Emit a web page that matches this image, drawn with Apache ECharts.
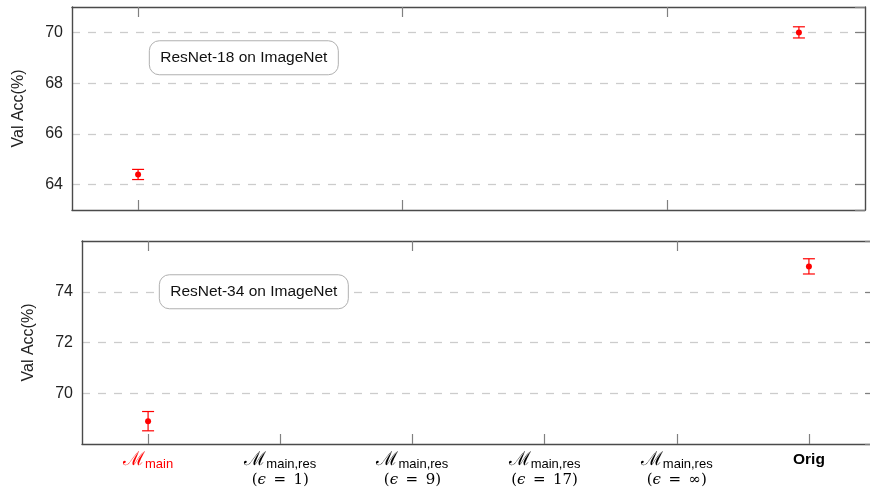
<!DOCTYPE html>
<html>
<head>
<meta charset="utf-8">
<script src="https://cdn.jsdelivr.net/npm/echarts@6/dist/echarts.min.js"></script>
<style>
  html, body { margin: 0; padding: 0; background: #fff; }
  #chart { width: 870px; height: 489px; }
</style>
</head>
<body>
<div id="chart"></div>
<script>
// Methods compared on the x axis
const categories = ['M_main', 'M_main_res_eps1', 'M_main_res_eps9', 'M_main_res_eps17', 'M_main_res_epsInf', 'Orig'];
const subscripts = ['main', 'main,res', 'main,res', 'main,res', 'main,res', ''];
const epsilons = ['', '1', '9', '17', '\u221E', ''];

// Validation accuracy (mean and half-width of the error bar), null = not evaluated
const r18Mean = [64.4, null, null, null, null, 70.0];
const r18Err  = [0.2,  null, null, null, null, 0.22];
const r34Mean = [68.9, null, null, null, null, 75.0];
const r34Err  = [0.38, null, null, null, null, 0.3];

// Y ranges for both panels (labelled ticks land on the even values)
const r18Range = [63, 71];
const r34Range = [68, 76];

// Panel captions
const r18Title = 'ResNet-18 on ImageNet';
const r34Title = 'ResNet-34 on ImageNet';
const titleAnchorCat = 0.8;
const r18TitleY = 69;
const r34TitleY = 74;

const SANS = 'Liberation Sans';
const RED = '#ff0000';
const AXIS = '#4a4a4a';
const TICK = '#808080';

function errData(mean, err) {
  const out = [];
  mean.forEach((m, i) => { if (m != null) out.push([i, m, err[i]]); });
  return out;
}

function renderErr(params, api) {
  const x = api.value(0), m = api.value(1), e = api.value(2);
  const c = api.coord([x, m]);
  const t = api.coord([x, m + e]);
  const b = api.coord([x, m - e]);
  const hw = 6;
  const ls = { stroke: RED, lineWidth: 1.2 };
  return {
    type: 'group',
    children: [
      { type: 'line', shape: { x1: c[0], y1: t[1], x2: c[0], y2: b[1] }, style: ls },
      { type: 'line', shape: { x1: c[0] - hw, y1: t[1], x2: c[0] + hw, y2: t[1] }, style: ls },
      { type: 'line', shape: { x1: c[0] - hw, y1: b[1], x2: c[0] + hw, y2: b[1] }, style: ls },
      { type: 'circle', shape: { cx: c[0], cy: c[1], r: 3 }, style: { fill: RED } }
    ]
  };
}

function xAxisPair(gridIndex, showLabels) {
  const base = {
    type: 'category', data: categories, gridIndex: gridIndex, boundaryGap: true,
    axisLine: { show: true, lineStyle: { color: AXIS, width: 1.4 } },
    axisTick: { show: true, inside: true, length: 10, alignWithLabel: true, lineStyle: { color: TICK, width: 1.2 } },
    splitLine: { show: false }
  };
  const bottom = Object.assign({}, base, {
    position: 'bottom',
    axisLabel: showLabels ? {
      show: true, margin: 7, interval: 0, hideOverlap: false,
      formatter: function (v, i) {
        if (i === categories.length - 1) return '{orig|Orig}';
        const cal = i === 0 ? 'calRed' : 'cal';
        const sub = i === 0 ? 'subRed' : 'sub';
        let s = '{' + cal + '|\u2133}{' + sub + '|' + subscripts[i] + '}';
        if (epsilons[i]) s += '\n{par|(}{eps|\u03F5}{par|\u2002=\u2002' + epsilons[i] + ')}';
        return s;
      },
      rich: {
        cal: { fontFamily: 'DejaVu Serif', fontSize: 19, color: '#000', lineHeight: 20, padding: [0, 0, 2, 0] },
        calRed: { fontFamily: 'DejaVu Serif', fontSize: 19, color: RED, lineHeight: 20, padding: [0, 0, 2, 0] },
        sub: { fontFamily: SANS, fontSize: 13, color: '#000', verticalAlign: 'bottom' },
        subRed: { fontFamily: SANS, fontSize: 13, color: RED, verticalAlign: 'bottom' },
        par: { fontFamily: 'DejaVu Serif', fontSize: 15, color: '#000', lineHeight: 17, verticalAlign: 'bottom' },
        eps: { fontFamily: 'DejaVu Serif', fontStyle: 'italic', fontSize: 15, color: '#000', lineHeight: 17, verticalAlign: 'bottom' },
        orig: { fontFamily: SANS, fontWeight: 'bold', fontSize: 15.5, color: '#000', padding: [1, 0, 0, 0] }
      }
    } : { show: false }
  });
  const top = Object.assign({}, base, { position: 'top', axisLabel: { show: false } });
  return [bottom, top];
}

function yAxisPair(gridIndex, range) {
  const left = {
    type: 'value', gridIndex: gridIndex, position: 'left',
    min: range[0], max: range[1], splitNumber: 4,
    name: 'Val Acc(%)', nameLocation: 'middle', nameGap: 45,
    nameTextStyle: { fontFamily: SANS, fontSize: 16, color: '#222' },
    axisLine: { show: true, lineStyle: { color: AXIS, width: 1.4 } },
    axisTick: { show: false },
    axisLabel: {
      margin: 9, fontFamily: SANS, fontSize: 16, color: '#222',
      showMinLabel: false, showMaxLabel: false
    },
    splitLine: { show: true, showMinLine: false, showMaxLine: false,
      lineStyle: { color: '#cccccc', width: 1.3, type: [8, 8] } }
  };
  const right = {
    type: 'value', gridIndex: gridIndex, position: 'right',
    min: range[0], max: range[1], splitNumber: 4,
    axisLine: { show: true, lineStyle: { color: AXIS, width: 1.4 } },
    axisTick: { show: true, inside: true, length: 10, lineStyle: { color: TICK, width: 1.2 } },
    axisLabel: { show: false },
    splitLine: { show: false }
  };
  return [left, right];
}

const chart = echarts.init(document.getElementById('chart'), null, { renderer: 'canvas' });

chart.setOption({
  animation: false,
  backgroundColor: '#fff',
  grid: [
    { left: 72, right: 5, top: 7, height: 203, containLabel: false, outerBoundsMode: 'none' },
    { left: 82, right: -5, top: 241, height: 203, containLabel: false, outerBoundsMode: 'none' }
  ],
  xAxis: [].concat(xAxisPair(0, false), xAxisPair(1, true)),
  yAxis: [].concat(yAxisPair(0, r18Range), yAxisPair(1, r34Range)),
  series: [
    { type: 'custom', name: 'ResNet-18', xAxisIndex: 0, yAxisIndex: 0,
      data: errData(r18Mean, r18Err), renderItem: renderErr, z: 5 },
    { type: 'custom', name: 'ResNet-34', xAxisIndex: 2, yAxisIndex: 2,
      data: errData(r34Mean, r34Err), renderItem: renderErr, z: 5 }
  ]
});

// Rounded caption boxes placed in data coordinates of each panel
function captionBox(xAxisIndex, yAxisIndex, catPos, yVal, text) {
  const p0 = chart.convertToPixel({ xAxisIndex: xAxisIndex }, 0);
  const p1 = chart.convertToPixel({ xAxisIndex: xAxisIndex }, 1);
  const cx = p0 + catPos * (p1 - p0);
  const cy = chart.convertToPixel({ yAxisIndex: yAxisIndex }, yVal);
  const w = 189, h = 34;
  return {
    type: 'group', x: cx, y: cy, z: 10,
    children: [
      { type: 'rect', shape: { x: -w / 2, y: -h / 2, width: w, height: h, r: 10 },
        style: { fill: '#fff', stroke: '#b0b0b0', lineWidth: 1 } },
      { type: 'text', x: 0, y: 0,
        style: { text: text, fontFamily: SANS, fontSize: 15.5, fill: '#111', align: 'center', verticalAlign: 'middle' } }
    ]
  };
}

chart.setOption({
  graphic: [
    captionBox(0, 0, titleAnchorCat, r18TitleY, r18Title),
    captionBox(2, 2, titleAnchorCat, r34TitleY, r34Title)
  ]
});
</script>
</body>
</html>
